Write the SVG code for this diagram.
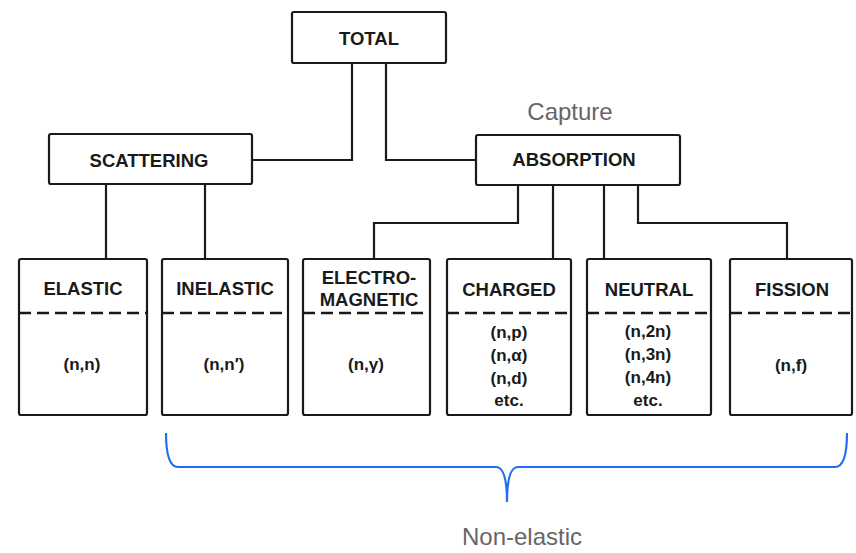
<svg xmlns="http://www.w3.org/2000/svg" width="856" height="553" viewBox="0 0 856 553">
<style>
.box{fill:#fff;stroke:#1a1a1a;stroke-width:2.2}
.dash{stroke:#1a1a1a;stroke-width:2.5;stroke-dasharray:12 6;fill:none}
.t{font-family:"Liberation Sans",Arial,sans-serif;font-weight:bold;font-size:18.5px;fill:#1a1a1a;text-anchor:middle}
.s{font-family:"Liberation Sans",Arial,sans-serif;font-weight:bold;font-size:17px;fill:#1a1a1a;text-anchor:middle}
.g{font-family:"Liberation Sans",Arial,sans-serif;font-size:24px;fill:#666;text-anchor:middle}
.c{stroke:#1a1a1a;stroke-width:2.2;fill:none}
</style>
<rect width="856" height="553" fill="#fff"/>
<g id="connectors">
<polyline class="c" points="352,63 352,160 252,160"/>
<polyline class="c" points="386,63 386,160 476,160"/>
<line class="c" x1="106" y1="184" x2="106" y2="259"/>
<line class="c" x1="205" y1="184" x2="205" y2="259"/>
<polyline class="c" points="518,185 518,223 374,223 374,259"/>
<line class="c" x1="553" y1="185" x2="553" y2="259"/>
<line class="c" x1="604" y1="185" x2="604" y2="259"/>
<polyline class="c" points="638,185 638,223 787,223 787,259"/>
</g>
<g id="total"><rect class="box" x="292" y="12" width="154" height="51" rx="2"/><text class="t" x="369" y="45">TOTAL</text></g>
<g id="scattering"><rect class="box" x="49" y="134" width="203" height="50" rx="2"/><text class="t" x="149" y="167">SCATTERING</text></g>
<g id="absorption"><rect class="box" x="476" y="135" width="204" height="50" rx="2"/><text class="t" x="574" y="166">ABSORPTION</text><text class="g" x="570" y="120">Capture</text></g>
<g id="elastic"><rect class="box" x="19" y="259" width="128" height="156" rx="2"/><line class="dash" x1="19" y1="313" x2="147" y2="313"/><text class="t" x="83" y="295">ELASTIC</text><text class="s" x="82" y="370">(n,n)</text></g>
<g id="inelastic"><rect class="box" x="162" y="259" width="126" height="156" rx="2"/><line class="dash" x1="162" y1="313" x2="288" y2="313"/><text class="t" x="225" y="295">INELASTIC</text><text class="s" x="224" y="370">(n,n′)</text></g>
<g id="electromagnetic"><rect class="box" x="303" y="259" width="127" height="156" rx="2"/><line class="dash" x1="303" y1="313" x2="430" y2="313"/><text class="t" x="369" y="284">ELECTRO-</text><text class="t" x="369" y="306">MAGNETIC</text><text class="s" x="366" y="370">(n,γ)</text></g>
<g id="charged"><rect class="box" x="447" y="259" width="124" height="156" rx="2"/><line class="dash" x1="447" y1="313" x2="571" y2="313"/><text class="t" x="509" y="296">CHARGED</text><text class="s" x="509" y="338">(n,p)</text><text class="s" x="509" y="361">(n,α)</text><text class="s" x="509" y="384">(n,d)</text><text class="s" x="509" y="406">etc.</text></g>
<g id="neutral"><rect class="box" x="587" y="259" width="124" height="156" rx="2"/><line class="dash" x1="587" y1="313" x2="711" y2="313"/><text class="t" x="649" y="296">NEUTRAL</text><text class="s" x="648" y="337">(n,2n)</text><text class="s" x="648" y="360">(n,3n)</text><text class="s" x="648" y="383">(n,4n)</text><text class="s" x="648" y="406">etc.</text></g>
<g id="fission"><rect class="box" x="730" y="259" width="122" height="156" rx="2"/><line class="dash" x1="730" y1="313" x2="852" y2="313"/><text class="t" x="792" y="296">FISSION</text><text class="s" x="791" y="371">(n,f)</text></g>
<g id="nonelastic">
<path d="M166,433 Q166,467 178,467 L496,467 Q507,467 507,502 Q507,467 518,467 L835,467 Q847,467 847,433" fill="none" stroke="#1f6ef2" stroke-width="2.2"/>
<text class="g" x="522" y="545">Non-elastic</text>
</g>
</svg>
